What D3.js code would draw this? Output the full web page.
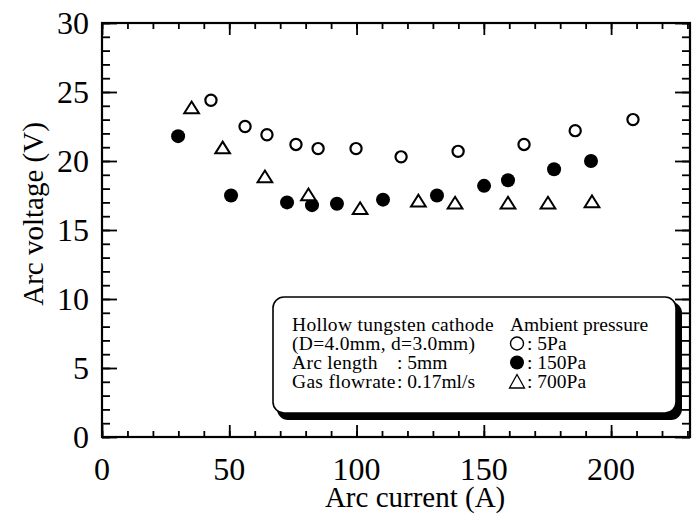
<!DOCTYPE html>
<html>
<head>
<meta charset="utf-8">
<script src="https://cdn.jsdelivr.net/npm/d3@7"></script>
<style>
  body { margin: 0; background: #fff; }
  text { font-family: "Liberation Serif", "Times New Roman", serif; fill: #000; }
</style>
</head>
<body>
<div id="chart"></div>
<script>
// 5 Pa (open circles)
const p5Current = [42.8, 56.2, 64.8, 76.2, 84.9, 99.8, 117.5, 139.9, 165.8, 185.9, 208.6];
const p5Voltage = [24.4, 22.5, 21.9, 21.2, 20.9, 20.9, 20.3, 20.7, 21.2, 22.2, 23.0];
// 150 Pa (filled circles)
const p150Current = [29.9, 50.7, 72.7, 82.5, 92.3, 110.4, 131.6, 150.1, 159.5, 177.6, 192.1];
const p150Voltage = [21.8, 17.5, 17.0, 16.8, 16.9, 17.2, 17.5, 18.2, 18.6, 19.4, 20.0];
// 700 Pa (triangles)
const p700Current = [35.2, 47.4, 64.0, 81.1, 101.4, 124.3, 138.7, 159.5, 175.2, 192.5];
const p700Voltage = [23.8, 20.9, 18.8, 17.5, 16.5, 17.05, 16.9, 16.9, 16.9, 17.0];

const xTicks = [0, 50, 100, 150, 200];
const yTicks = [0, 5, 10, 15, 20, 25, 30];

const infoLines = ['Hollow tungsten cathode', '(D=4.0mm, d=3.0mm)', 'Arc length', 'Gas flowrate'];
const infoValues = ['', '', ': 5mm', ': 0.17ml/s'];
const legendTitle = 'Ambient pressure';
const legendLabels = [': 5Pa', ': 150Pa', ': 700Pa'];
const legendShapes = ['open', 'filled', 'triangle'];

const width = 693, height = 515;
const margin = {left: 102, right: 3, top: 23, bottom: 78};
const w = width - margin.left - margin.right;
const h = height - margin.top - margin.bottom;

const svg = d3.select('#chart').append('svg')
  .attr('width', width)
  .attr('height', height);
const g = svg.append('g')
  .attr('transform', `translate(${margin.left}, ${margin.top})`);

const x = d3.scaleLinear().domain([0, 231]).range([0, w]);
const y = d3.scaleLinear().domain([0, 30]).range([h, 0]);

const minorX = d3.range(0, 231, 10);
const minorY = d3.range(0, 31, 1);

// inward ticks on all four sides
function ticks(axis, vals, len, transform) {
  const a = g.append('g')
    .attr('transform', transform)
    .call(axis.tickValues(vals).tickSize(len).tickFormat(''));
  a.select('.domain').remove();
  a.selectAll('line').attr('stroke', '#000').attr('stroke-width', 1.8);
}
ticks(d3.axisBottom(x), minorX, -6, `translate(0, ${h})`);
ticks(d3.axisBottom(x), xTicks, -12, `translate(0, ${h})`);
ticks(d3.axisTop(x), minorX, -6, 'translate(0, 0)');
ticks(d3.axisTop(x), xTicks, -12, 'translate(0, 0)');
ticks(d3.axisLeft(y), minorY, -8, 'translate(0, 0)');
ticks(d3.axisLeft(y), yTicks, -15, 'translate(0, 0)');
ticks(d3.axisRight(y), minorY, -8, `translate(${w}, 0)`);
ticks(d3.axisRight(y), yTicks, -15, `translate(${w}, 0)`);

g.append('rect')
  .attr('width', w).attr('height', h)
  .attr('fill', 'none').attr('stroke', '#000').attr('stroke-width', 2.2);

// tick labels
g.selectAll('.xl').data(xTicks).join('text')
  .attr('x', d => x(d)).attr('y', h + 43)
  .attr('text-anchor', 'middle')
  .style('font-size', '32px')
  .text(d => d);
g.selectAll('.yl').data(yTicks).join('text')
  .attr('x', -13).attr('y', d => y(d) + 11)
  .attr('text-anchor', 'end')
  .style('font-size', '32px')
  .text(d => d);

// axis titles
svg.append('text')
  .attr('x', margin.left + x(123)).attr('y', 507)
  .attr('text-anchor', 'middle')
  .style('font-size', '29px')
  .text('Arc current (A)');
svg.append('text')
  .attr('transform', 'translate(43, 214) rotate(-90)')
  .attr('text-anchor', 'middle')
  .style('font-size', '29px')
  .text('Arc voltage (V)');

// markers
function marker(sel, shape, size) {
  if (shape === 'open') {
    sel.append('circle').attr('r', size * 0.8)
      .attr('fill', '#fff').attr('stroke', '#000').attr('stroke-width', 2.2);
  } else if (shape === 'filled') {
    sel.append('circle').attr('r', size)
      .attr('fill', '#000');
  } else {
    const s = size * 1.05;
    sel.append('path')
      .attr('d', `M0,${-s * 0.95} L${s},${s * 0.65} L${-s},${s * 0.65} Z`)
      .attr('fill', '#fff').attr('stroke', '#000').attr('stroke-width', 2)
      .attr('stroke-linejoin', 'miter');
  }
}

const series = [
  {cur: p5Current, volt: p5Voltage, shape: 'open'},
  {cur: p150Current, volt: p150Voltage, shape: 'filled'},
  {cur: p700Current, volt: p700Voltage, shape: 'triangle'}
];
series.forEach(s => {
  s.cur.forEach((c, i) => {
    const m = g.append('g').attr('transform', `translate(${x(c)}, ${y(s.volt[i])})`);
    marker(m, s.shape, 7);
  });
});

// legend box with shadow
const lg = svg.append('g').attr('transform', 'translate(273, 297)');
lg.append('rect')
  .attr('x', 4).attr('y', 5).attr('width', 405).attr('height', 118)
  .attr('rx', 11).attr('fill', '#000');
lg.append('rect')
  .attr('width', 403).attr('height', 116)
  .attr('rx', 11).attr('fill', '#fff').attr('stroke', '#000').attr('stroke-width', 1.6);

const lineY = i => 34 + i * 19;
lg.selectAll('.info').data(infoLines).join('text')
  .attr('x', 19).attr('y', (d, i) => lineY(i))
  .style('font-size', '19.5px')
  .style('letter-spacing', '0.3px')
  .text(d => d);
lg.selectAll('.infov').data(infoValues).join('text')
  .attr('x', 124).attr('y', (d, i) => lineY(i))
  .style('font-size', '19.5px')
  .text(d => d);
lg.append('text')
  .attr('x', 237).attr('y', lineY(0))
  .style('font-size', '19.5px')
  .text(legendTitle);
legendLabels.forEach((lab, i) => {
  const yy = lineY(i + 1);
  const m = lg.append('g').attr('transform', `translate(244, ${yy - 6.5})`);
  if (legendShapes[i] === 'open') {
    m.append('circle').attr('r', 6.5).attr('fill', '#fff').attr('stroke', '#000').attr('stroke-width', 1.4);
  } else if (legendShapes[i] === 'filled') {
    m.append('circle').attr('r', 7).attr('fill', '#000');
  } else {
    m.append('path').attr('d', 'M0,-7 L7.5,6.5 L-7.5,6.5 Z')
      .attr('fill', '#fff').attr('stroke', '#000').attr('stroke-width', 1.3);
  }
  lg.append('text')
    .attr('x', 254).attr('y', yy)
    .style('font-size', '19.5px')
    .text(lab);
});
</script>
</body>
</html>
